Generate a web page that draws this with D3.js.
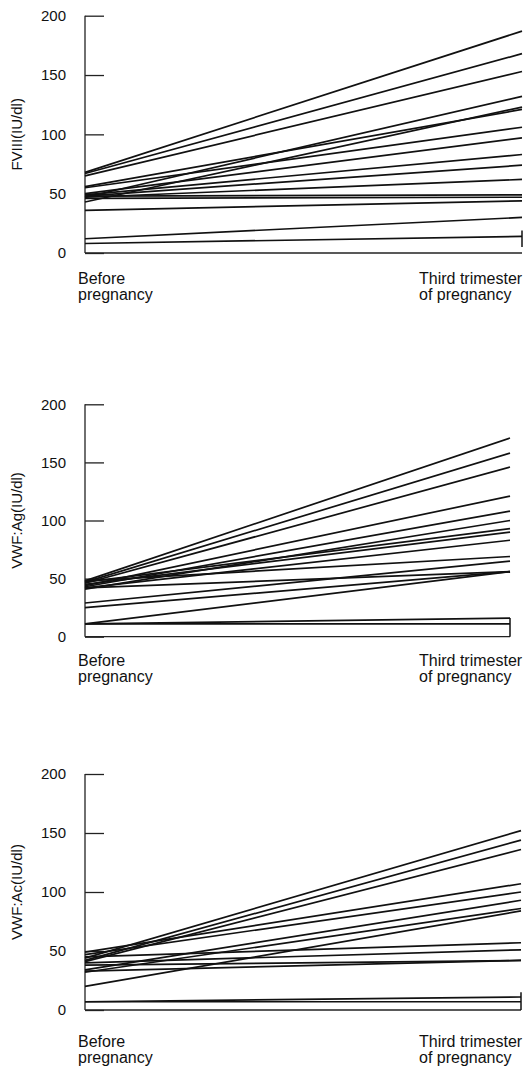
<!DOCTYPE html>
<html>
<head>
<meta charset="utf-8">
<title>Factor levels before and during pregnancy</title>
<script src="https://cdn.jsdelivr.net/npm/d3@7"></script>
<style>
  html, body { margin: 0; padding: 0; background: #fff; }
  svg { display: block; }
  text { font-family: "Liberation Sans", Arial, sans-serif; fill: #111; }
</style>
</head>
<body>
<div id="chart"></div>
<script>
(function () {
  'use strict';

  // ---- data -----------------------------------------------------------------
  const CATEGORIES = ['Before pregnancy', 'Third trimester of pregnancy'];
  const CATEGORY_LINES = [['Before', 'pregnancy'], ['Third trimester', 'of pregnancy']];
  const Y_TICKS = [0, 50, 100, 150, 200];

  // FVIII (IU/dl), one entry per patient
  const fviiiBefore = [68, 67, 65, 47, 43, 56, 55, 50, 49, 48, 47, 48, 46, 36, 12, 8];
  const fviiiThird  = [187, 168, 153, 132, 123, 121, 106, 97, 83, 74, 62, 49, 47, 44, 30, 14];

  // VWF:Ag (IU/dl)
  const vwfAgBefore = [48, 47, 46, 44, 43, 41, 47, 45, 42, 48, 29, 42, 25, 11, 11, 11];
  const vwfAgThird  = [171, 158, 146, 121, 108, 100, 93, 90, 83, 69, 65, 56, 56, 56, 11, 16];

  // VWF:Ac (IU/dl)
  const vwfAcBefore = [44, 42, 41, 49, 47, 34, 32, 20, 45, 40, 38, 33, 7, 7];
  const vwfAcThird  = [152, 144, 136, 107, 100, 93, 86, 84, 57, 51, 42, 42, 11, 7];

  // short vertical strokes drawn at the third-trimester end [from, to]
  const fviiiStub = [5, 19];
  const vwfAgStub = [0, 16];
  const vwfAcStub = [0, 15];

  // ---- layout ---------------------------------------------------------------
  const W = 527, H = 1068;
  const AXIS_X = 85;
  const TICK_LEN = 19;
  const FONT = 15;
  const CAT_FONT = 16;

  const PANELS = [
    { label: 'FVIII(IU/dl)',  before: fviiiBefore, third: fviiiThird, stub: fviiiStub,
      top: 15.7, bottom: 253, right: 522, textY: 284 },
    { label: 'VWF:Ag(IU/dl)', before: vwfAgBefore, third: vwfAgThird, stub: vwfAgStub,
      top: 404.3, bottom: 636.7, right: 510, textY: 666 },
    { label: 'VWF:Ac(IU/dl)', before: vwfAcBefore, third: vwfAcThird, stub: vwfAcStub,
      top: 774, bottom: 1010, right: 521, textY: 1046.5 },
  ];

  const svg = d3.select('#chart').append('svg')
    .attr('width', W).attr('height', H)
    .attr('viewBox', `0 0 ${W} ${H}`);

  PANELS.forEach((p) => {
    const g = svg.append('g');

    const x = d3.scalePoint().domain(CATEGORIES).range([AXIS_X, p.right]);
    const y = d3.scaleLinear().domain([0, 200]).range([p.bottom, p.top]);

    // y axis: ticks point inward, labels on the left
    const yAxis = d3.axisRight(y).tickValues(Y_TICKS).tickSize(TICK_LEN).tickFormat('');
    const ya = g.append('g').attr('transform', `translate(${AXIS_X},0)`).call(yAxis);
    ya.select('.domain').remove();
    ya.selectAll('.tick line').attr('stroke', '#222').attr('stroke-width', 1.3);
    g.append('line')
      .attr('x1', AXIS_X).attr('x2', AXIS_X)
      .attr('y1', y(200)).attr('y2', y(0))
      .attr('stroke', '#222').attr('stroke-width', 1.3);

    g.selectAll('.ylab').data(Y_TICKS).enter().append('text')
      .attr('class', 'ylab')
      .attr('x', 66).attr('y', (d) => y(d))
      .attr('dy', '0.36em')
      .attr('text-anchor', 'end')
      .attr('font-size', FONT)
      .text((d) => d);

    // x axis baseline
    g.append('line')
      .attr('x1', AXIS_X).attr('x2', p.right)
      .attr('y1', y(0)).attr('y2', y(0))
      .attr('stroke', '#222').attr('stroke-width', 1.3);

    // y axis title
    g.append('text')
      .attr('transform', `translate(22,${(y(0) + y(200)) / 2}) rotate(-90)`)
      .attr('text-anchor', 'middle')
      .attr('font-size', FONT)
      .text(p.label);

    // category labels
    CATEGORIES.forEach((c, i) => {
      const lx = i === 0 ? x(c) - 7 : 419;
      const t = g.append('text')
        .attr('x', lx)
        .attr('y', p.textY)
        .attr('font-size', CAT_FONT);
      CATEGORY_LINES[i].forEach((ln, k) => {
        t.append('tspan')
          .attr('x', lx)
          .attr('dy', k === 0 ? 0 : 16)
          .text(ln);
      });
    });

    // patient lines
    const pairs = p.before.map((b, i) => [b, p.third[i]]);
    const line = d3.line().x((d, i) => x(CATEGORIES[i])).y((d) => y(d));
    g.selectAll('.pt').data(pairs).enter().append('path')
      .attr('class', 'pt')
      .attr('d', (d) => line(d))
      .attr('fill', 'none')
      .attr('stroke', '#111')
      .attr('stroke-width', 1.7);

    // end stub
    g.append('line')
      .attr('x1', x(CATEGORIES[1])).attr('x2', x(CATEGORIES[1]))
      .attr('y1', y(p.stub[0])).attr('y2', y(p.stub[1]))
      .attr('stroke', '#111').attr('stroke-width', 1.5);
  });
})();
</script>
</body>
</html>
